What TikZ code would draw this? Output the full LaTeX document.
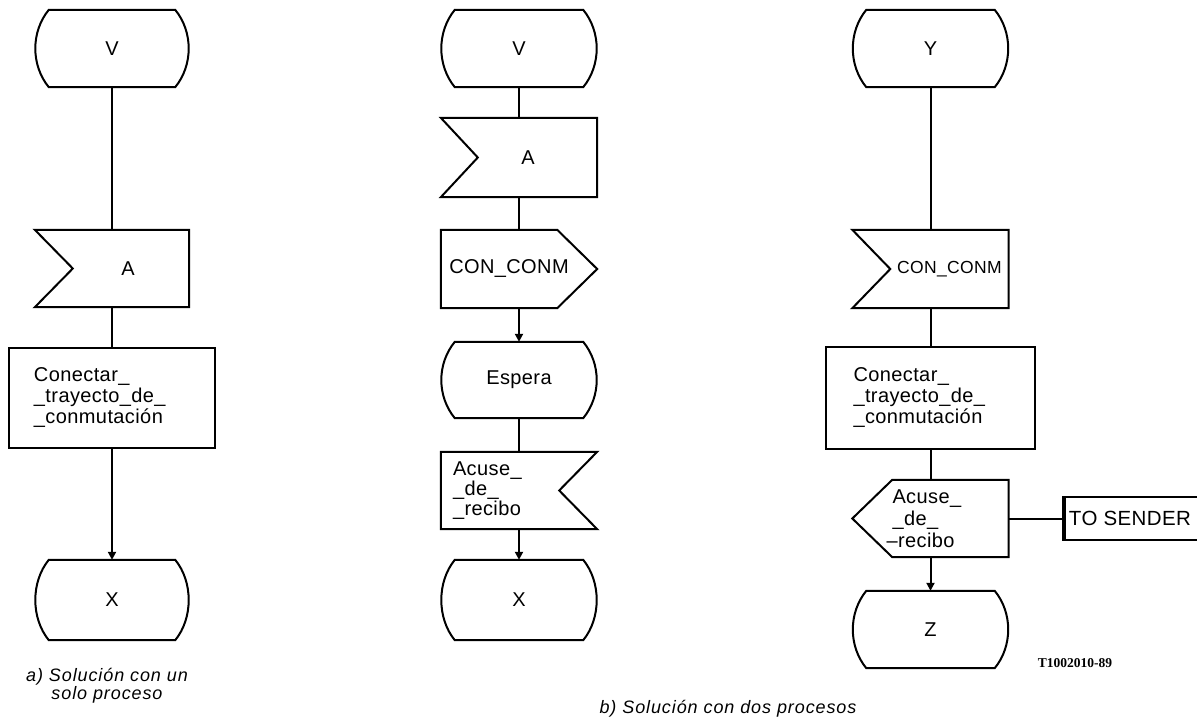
\documentclass[tikz,border=0pt]{standalone}
\usepackage{fontspec}
\setmainfont{Liberation Sans}[LetterSpace=2]
\newfontfamily\captionfamily{Liberation Sans}[LetterSpace=5]
\newfontfamily\refnofamily{Liberation Serif}
\usetikzlibrary{arrows.meta,calc}

% Outlines of the SDL symbols, drawn around named nodes
\newcommand\sdlstate[1]{%
  \draw[outline] ($(#1.north west)+(14,0)$) -- ($(#1.north east)+(-14,0)$)
    .. controls ($(#1.north east)+(4,22)$) and ($(#1.south east)+(4,-22)$)
    .. ($(#1.south east)+(-14,0)$) -- ($(#1.south west)+(14,0)$)
    .. controls ($(#1.south west)+(-4,-22)$) and ($(#1.north west)+(-4,22)$)
    .. cycle;}
\newcommand\sdlinputL[2]{%
  \draw[outline] (#1.north west) -- (#1.north east) -- (#1.south east)
    -- (#1.south west) -- ($(#1.west)+(#2,0)$) -- cycle;}
\newcommand\sdlinputR[2]{%
  \draw[outline] (#1.north west) -- (#1.north east) -- ($(#1.east)+(-#2,0)$)
    -- (#1.south east) -- (#1.south west) -- cycle;}
\newcommand\sdloutputR[2]{%
  \draw[outline] (#1.north west) -- ($(#1.north east)+(-#2,0)$) -- (#1.east)
    -- ($(#1.south east)+(-#2,0)$) -- (#1.south west) -- cycle;}
\newcommand\sdloutputL[2]{%
  \draw[outline] ($(#1.north west)+(#2,0)$) -- (#1.north east) -- (#1.south east)
    -- ($(#1.south west)+(#2,0)$) -- (#1.west) -- cycle;}
\newcommand\sdltask[1]{\draw[outline] (#1.north west) rectangle (#1.south east);}

\begin{document}
\begin{tikzpicture}[x=1pt,y=-1pt,
  font=\fontsize{20}{21}\selectfont,
  outline/.style={line width=2pt, line join=miter},
  link/.style={line width=2pt},
  flow/.style={link,-{Triangle[length=8pt,width=8pt]}},
  sym/.style 2 args={minimum width=#1, minimum height=#2, inner sep=0pt},
  memo/.style={align=left, inner ysep=0pt},
  capfont/.style={font=\captionfamily\itshape\fontsize{18}{18}\selectfont},
]
\useasboundingbox (0,0) rectangle (1197,722);

% a) one process
\node[sym={154pt}{77pt}] (a-v) at (112,48.5) {V};
\node[sym={154pt}{77pt}, label={[xshift=16pt]center:A}] (a-a) at (112,268.5) {};
\node[sym={206pt}{100pt}, memo, inner xsep=25pt, text width=156pt] (a-task) at (112,398)
  {Conectar\_\\\_trayecto\_de\_\\\_conmutación};
\node[sym={154pt}{80pt}] (a-x) at (112,600) {X};

\sdlstate{a-v}
\sdlinputL{a-a}{38}
\sdltask{a-task}
\sdlstate{a-x}

\draw[link] (a-v.south) -- (a-a.north);
\draw[link] (a-a.south) -- (a-task.north);
\draw[flow] (a-task.south) -- (a-x.north);

% b) two processes, first process
\node[sym={156pt}{77pt}] (b-v) at (519,48.5) {V};
\node[sym={156pt}{79pt}, label={[xshift=9pt]center:A}] (b-a) at (519,157.5) {};
\node[sym={156pt}{78pt}, label={[xshift=-10pt]center:CON\_CONM}] (b-con) at (519,269) {};
\node[sym={156pt}{76pt}] (b-wait) at (519,380) {Espera};
\node[sym={156pt}{77pt}, memo, inner xsep=12pt, text width=132pt,
      font=\fontsize{20}{20}\selectfont] (b-ack) at (519,490.5)
  {Acuse\_\\\_de\_\\\_recibo};
\node[sym={156pt}{80pt}] (b-x) at (519,600) {X};

\sdlstate{b-v}
\sdlinputL{b-a}{37}
\sdloutputR{b-con}{40}
\sdlstate{b-wait}
\sdlinputR{b-ack}{38}
\sdlstate{b-x}

\draw[link] (b-v.south) -- (b-a.north);
\draw[link] (b-a.south) -- (b-con.north);
\draw[flow] (b-con.south) -- (b-wait.north);
\draw[link] (b-wait.south) -- (b-ack.north);
\draw[flow] (b-ack.south) -- (b-x.north);

% b) two processes, second process
\node[sym={156pt}{77pt}] (c-y) at (930.5,48.5) {Y};
\node[sym={156pt}{78pt},
      label={[xshift=19pt,font=\fontsize{17.5}{20}\selectfont]center:CON\_CONM}] (c-con) at (930.5,269) {};
\node[sym={208pt}{102pt}, memo, inner xsep=27pt, text width=154pt] (c-task) at (930.5,398)
  {Conectar\_\\\_trayecto\_de\_\\\_conmutación};
\node[sym={156pt}{77pt}, memo, inner xsep=40pt, text width=76pt,
      font=\fontsize{20}{22}\selectfont] (c-ack) at (930.5,518.5)
  {Acuse\_\\\_de\_\\\hspace*{-6pt}--recibo};
\node[sym={156pt}{77pt}] (c-z) at (930.5,629.5) {Z};
\node[sym={134pt}{43pt}, font=\fontsize{20.5}{24}\selectfont] (tos) at (1130,518.5) {TO SENDER};

\sdlstate{c-y}
\sdlinputL{c-con}{38}
\sdltask{c-task}
\sdloutputL{c-ack}{40}
\sdlstate{c-z}
\draw[outline] (tos.north east) -- (tos.north west) -- (tos.south west) -- (tos.south east);
\draw[line width=4pt] ([xshift=1pt]tos.north west) -- ([xshift=1pt]tos.south west);

\draw[link] (c-y.south) -- (c-con.north);
\draw[link] (c-con.south) -- (c-task.north);
\draw[link] (c-task.south) -- (c-ack.north);
\draw[flow] (c-ack.south) -- (c-z.north);
\draw[link] (c-ack.east) -- (tos.west);

% captions and figure number
\node[capfont, align=center] (cap-a) at (107,686) {a) Solución con un\\solo proceso};
\node[capfont] (cap-b) at (728,709) {b) Solución con dos procesos};
\node[font=\refnofamily\bfseries\fontsize{13.5}{16}\selectfont] (refno) at (1075,663) {T1002010-89};
\end{tikzpicture}
\end{document}
